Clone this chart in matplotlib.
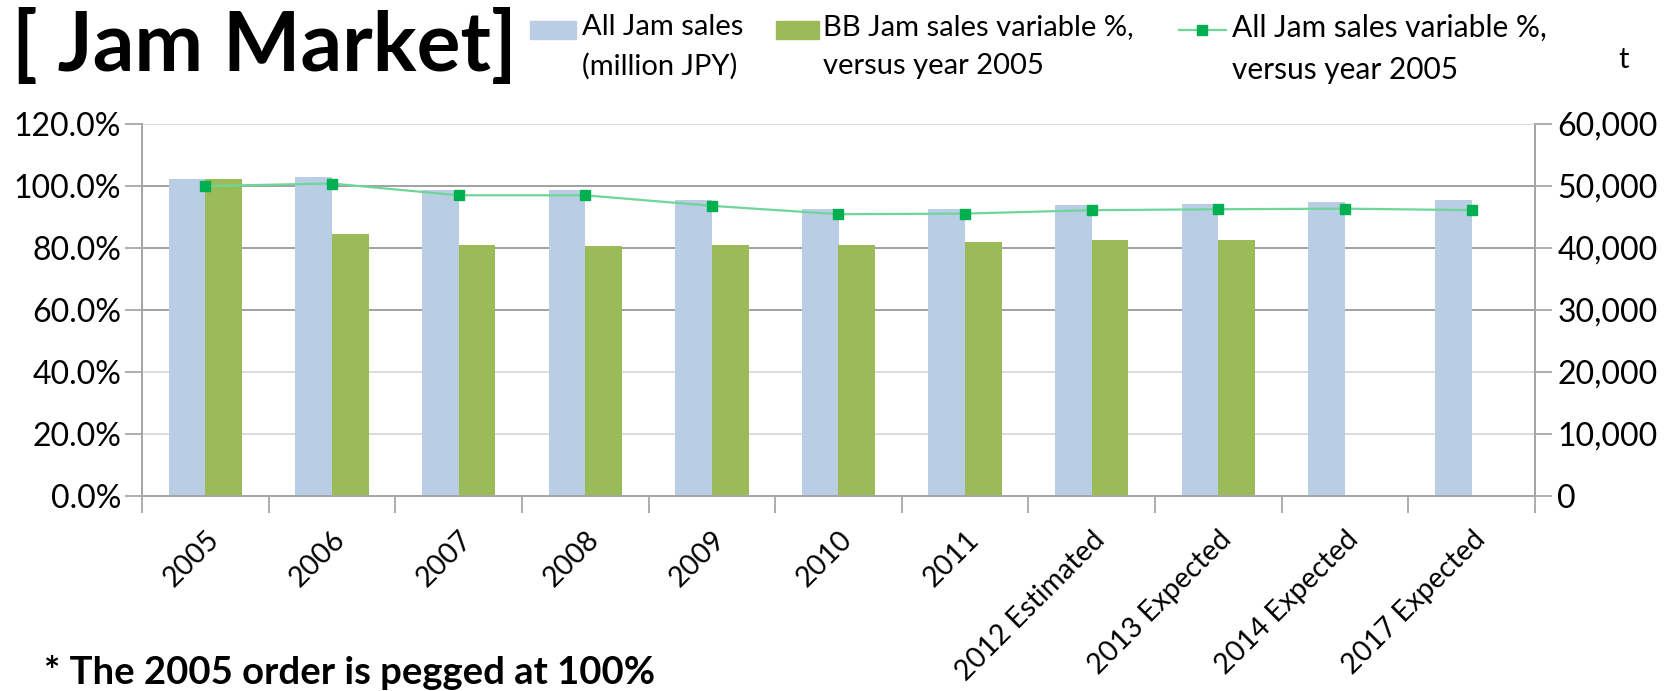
import matplotlib
matplotlib.use("Agg")
import matplotlib.pyplot as plt
from matplotlib.patches import Rectangle
from matplotlib.lines import Line2D
from matplotlib.ticker import FuncFormatter, MultipleLocator, FixedLocator
import numpy as np

plt.rcParams['font.family'] = ['Lato', 'DejaVu Sans']

categories = ["2005", "2006", "2007", "2008", "2009", "2010", "2011",
              "2012 Estimated", "2013 Expected", "2014 Expected", "2017 Expected"]
all_jam_sales = [51200, 51500, 49400, 49400, 47800, 46350, 46350, 47000, 47100, 47450, 47800]
bb_jam_pct = [102.4, 84.6, 81.1, 80.5, 80.9, 81.1, 82.0, 82.5, 82.7, np.nan, np.nan]
all_jam_pct = [100.0, 100.8, 97.0, 97.0, 93.6, 90.9, 91.1, 92.2, 92.5, 92.7, 92.2]

W, H = 1665, 691
fig = plt.figure(figsize=(W / 100, H / 100), dpi=100)

def fx(px):
    return px / W

def fy(py):
    return 1 - py / H

ax = fig.add_axes([fx(142), fy(496), fx(1535) - fx(142), fy(124) - fy(496)])
ax2 = ax.twinx()
ax.set_zorder(ax2.get_zorder() + 1)
ax.patch.set_visible(False)

x = np.arange(len(categories))
bw = 0.29
blue = "#b9cde5"
green = "#9bbb59"
ax2.bar(x - bw / 2, all_jam_sales, width=bw, color=blue, zorder=2)
ax.bar(x + bw / 2, bb_jam_pct, width=bw, color=green, zorder=2)
ax.plot(x, all_jam_pct, color="#6fd69a", lw=1.6, marker='s', ms=7,
        mfc="#00b050", mec="#00b050", zorder=3)

ax.set_xlim(-0.5, len(categories) - 0.5)
ax.set_ylim(0, 120)
ax2.set_ylim(0, 60000)
ax.yaxis.set_major_locator(MultipleLocator(20))
ax2.yaxis.set_major_locator(MultipleLocator(10000))
ax.yaxis.set_major_formatter(FuncFormatter(lambda v, p: f"{v:.1f}%"))
ax2.yaxis.set_major_formatter(FuncFormatter(lambda v, p: f"{int(v):,}"))

ax2.set_axisbelow(True)
ax2.yaxis.grid(True, lw=1.3)
for val, gl in zip(ax2.get_yticks(), ax2.get_ygridlines()):
    if 25000 < val < 55000:
        gl.set_color("#9a9a9a")
    else:
        gl.set_color("#d9d9d9")

ax.set_xticks(x)
ax.set_xticklabels(categories, rotation=45, ha='right', va='top',
                   rotation_mode='anchor', fontsize=20.5)
ax.xaxis.set_minor_locator(FixedLocator(np.arange(-0.5, len(categories), 1.0)))
ax.tick_params(axis='x', which='major', length=0, pad=22)
ax.tick_params(axis='x', which='minor', length=12, color="#a0a0a0", width=1.2)
ax.tick_params(axis='y', length=12, color="#a0a0a0", width=1.2, labelsize=23, pad=3)
ax2.tick_params(axis='y', length=12, color="#a0a0a0", width=1.2, labelsize=23, pad=4)
ax2.tick_params(axis='x', length=0)

for a in (ax, ax2):
    a.spines['top'].set_visible(False)
    for s in ('left', 'right', 'bottom'):
        a.spines[s].set_color("#a6a6a6")
        a.spines[s].set_linewidth(1.3)

fig.text(fx(12), fy(47), "[ Jam Market]", fontsize=59, fontweight='bold',
         va='center', ha='left')
fig.text(fx(44), fy(672), "* The 2005 order is pegged at 100%", fontsize=27.5,
         fontweight='bold', va='center', ha='left')

fig.add_artist(Rectangle((fx(530), fy(39)), fx(576) - fx(530), fy(21) - fy(39),
                         transform=fig.transFigure, color=blue))
fig.text(fx(582), fy(14), "All Jam sales\n(million JPY)", fontsize=21,
         va='top', ha='left', linespacing=1.6)
fig.add_artist(Rectangle((fx(776), fy(39)), fx(819) - fx(776), fy(21) - fy(39),
                         transform=fig.transFigure, color=green))
fig.text(fx(823), fy(14), "BB Jam sales variable %,\nversus year 2005", fontsize=21,
         va='top', ha='left', linespacing=1.6)
fig.add_artist(Line2D([fx(1179), fx(1226)], [fy(30), fy(30)], transform=fig.transFigure,
                      color="#6fd69a", lw=1.6))
fig.add_artist(Line2D([fx(1202.5)], [fy(30)], transform=fig.transFigure,
                      marker='s', ms=7, mfc="#00b050", mec="#00b050", lw=0))
fig.text(fx(1232), fy(14), "All Jam sales variable %,\nversus year 2005", fontsize=21.5,
         va='top', ha='left', linespacing=1.6)
fig.text(fx(1624), fy(60), "t", fontsize=21, va='center', ha='center')

fig.savefig("out.png", dpi=100)
